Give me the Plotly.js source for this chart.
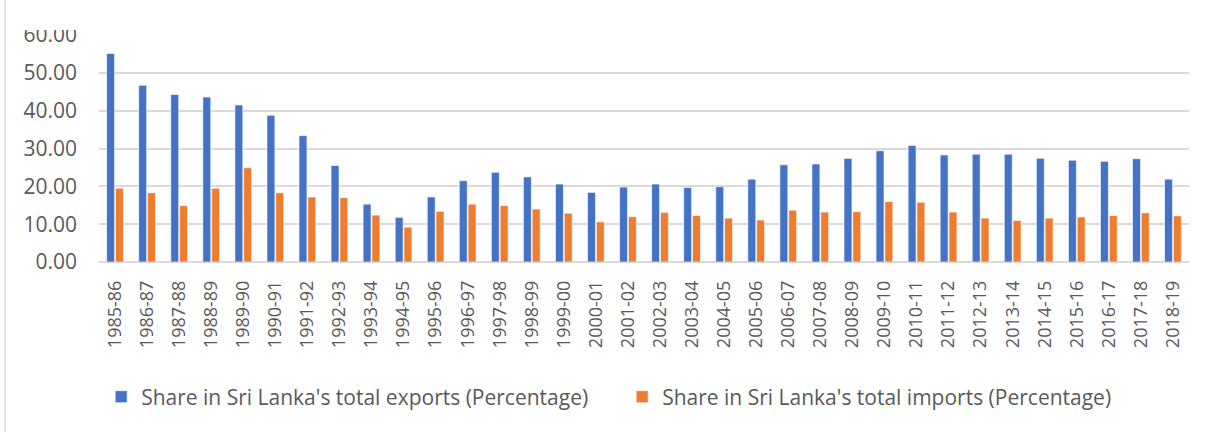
<!DOCTYPE html>
<html>
<head>
<meta charset="utf-8">
<script src="https://cdn.plot.ly/plotly-3.0.1.min.js"></script>
<style>html,body{margin:0;padding:0;background:#fff;}#chart{width:1209px;height:432px;}</style>
</head>
<body>
<div id="chart"></div>
<script>
const years = ["1985-86","1986-87","1987-88","1988-89","1989-90","1990-91","1991-92","1992-93","1993-94","1994-95","1995-96","1996-97","1997-98","1998-99","1999-00","2000-01","2001-02","2002-03","2003-04","2004-05","2005-06","2006-07","2007-08","2008-09","2009-10","2010-11","2011-12","2012-13","2013-14","2014-15","2015-16","2016-17","2017-18","2018-19"];
const exportsShare = [55.1,46.7,44.3,43.6,41.5,38.8,33.4,25.5,15.3,11.8,17.2,21.5,23.7,22.5,20.6,18.4,19.8,20.6,19.7,19.9,21.9,25.7,25.9,27.4,29.4,30.8,28.3,28.5,28.5,27.4,26.9,26.6,27.3,21.9];
const importsShare = [19.5,18.3,14.9,19.5,24.9,18.3,17.2,17.0,12.4,9.2,13.4,15.3,14.9,14.0,12.9,10.6,12.0,13.1,12.3,11.6,11.1,13.7,13.2,13.3,16.0,15.8,13.2,11.6,11.0,11.6,11.9,12.3,13.0,12.2];
const yTicks = [0,10,20,30,40,50,60];
const yTickText = ["0.00","10.00","20.00","30.00","40.00","50.00","60.00"];

const traces = [
  {type:'bar', x: years, y: exportsShare, name: "Share in Sri Lanka's total exports (Percentage)",
   marker:{color:'#4472C4', line:{color:'rgba(255,255,255,0.6)', width:1}}, hoverinfo:'x+y'},
  {type:'bar', x: years, y: importsShare, name: "Share in Sri Lanka's total imports (Percentage)",
   marker:{color:'#ED7D31', line:{color:'rgba(255,255,255,0.6)', width:1}}, hoverinfo:'x+y'}
];

const layout = {
  width:1209, height:432,
  margin:{l:99, r:20, t:35, b:170},
  paper_bgcolor:'#fff', plot_bgcolor:'#fff',
  barmode:'group', bargap:0.45, bargroupgap:0.1,
  font:{family:'"Open Sans", sans-serif', color:'#595959'},
  xaxis:{type:'category', tickangle:-90, tickfont:{size:18, color:'#595959'}, showgrid:false,
         ticks:'', showline:false, zeroline:false, automargin:false, ticklabelstandoff:14},
  yaxis:{range:[0,60], tickvals:yTicks, ticktext:yTickText, tickfont:{size:21, color:'#595959'},
         showgrid:true, gridcolor:'#d9d9d9', gridwidth:2, zeroline:true, zerolinecolor:'#d9d9d9', zerolinewidth:2,
         ticks:'', showline:false, automargin:false, ticklabelstandoff:21},
  showlegend:true,
  legend:{orientation:'h', x:0.002, xanchor:'left', y:-0.595, yanchor:'middle',
          font:{size:21, color:'#595959'}, entrywidthmode:'pixels', entrywidth:476, itemwidth:30, bgcolor:'rgba(0,0,0,0)'},
  shapes:[
    {type:'rect', xref:'paper', yref:'paper', x0:-0.08, x1:0.0, y0:1.022, y1:1.2, fillcolor:'#fff', line:{width:0}, layer:'above'},
    {type:'line', xref:'paper', yref:'paper', x0:-0.0862, x1:-0.0862, y0:-0.76, y1:1.16, line:{color:'#d9d9d9', width:1.5}, layer:'above'}
  ]
};

Plotly.newPlot('chart', traces, layout, {displayModeBar:false, staticPlot:true});
</script>
</body>
</html>
